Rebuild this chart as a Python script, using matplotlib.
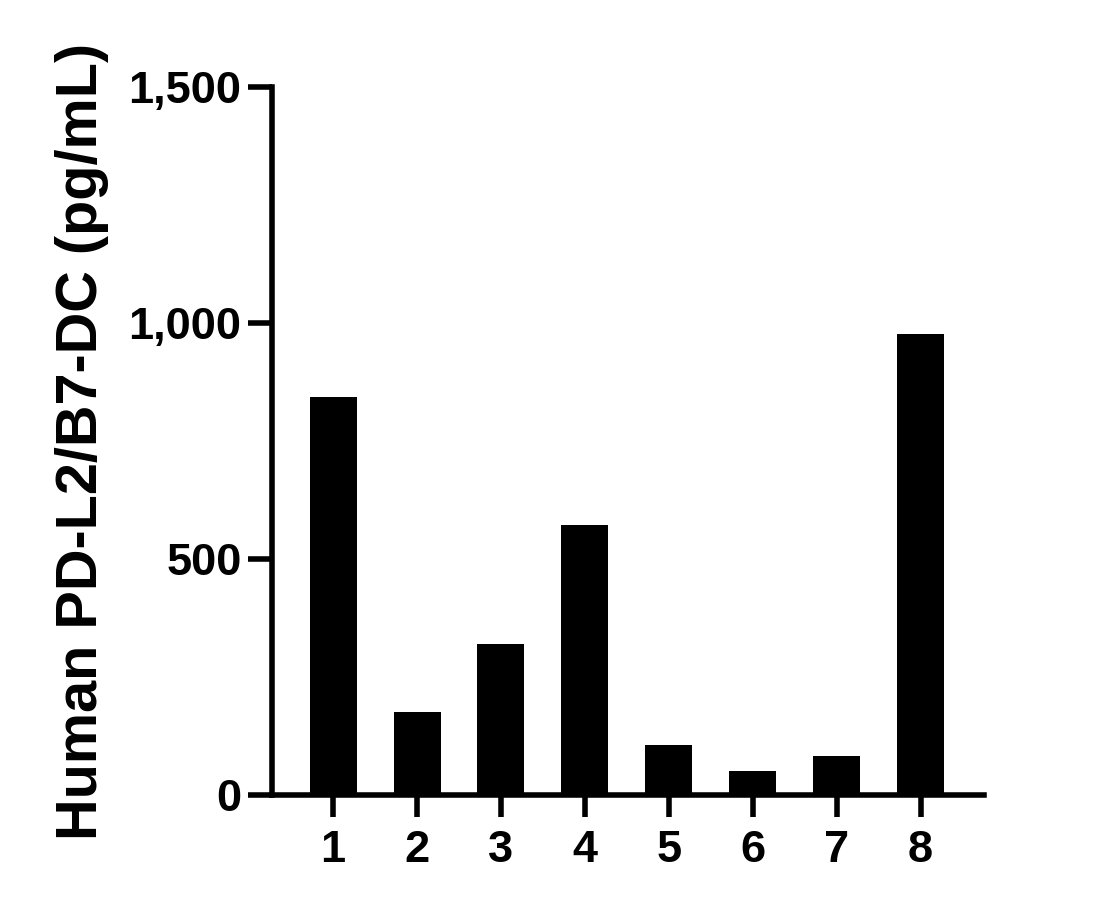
import matplotlib

matplotlib.use("Agg")
import matplotlib.pyplot as plt
from matplotlib.ticker import FuncFormatter

SAMPLES = ["1", "2", "3", "4", "5", "6", "7", "8"]
CONCENTRATIONS = [843, 176, 320, 572, 106, 51, 83, 977]
Y_TICKS = [0, 500, 1000, 1500]
Y_LABEL = "Human PD-L2/B7-DC (pg/mL)"

plt.rcParams["font.family"] = ["Liberation Sans", "DejaVu Sans"]
plt.rcParams["font.weight"] = "bold"

fig = plt.figure(figsize=(11.2, 9.11), dpi=100)
ax = fig.add_axes([0.243, 0.1273, 0.636, 0.7772])

positions = list(range(1, len(SAMPLES) + 1))
ax.bar(positions, CONCENTRATIONS, width=0.56, color="black")

ax.set_xlim(0.274, 8.76)
ax.set_ylim(0, 1500)
ax.set_xticks(positions)
ax.set_xticklabels(SAMPLES)
ax.set_yticks(Y_TICKS)
ax.yaxis.set_major_formatter(FuncFormatter(lambda v, _: f"{int(v):,}"))

for side in ("top", "right"):
    ax.spines[side].set_visible(False)
for side in ("left", "bottom"):
    ax.spines[side].set_linewidth(4)

ax.tick_params(axis="both", direction="out", width=4, labelsize=32.5)
ax.tick_params(axis="y", length=17, pad=5)
ax.tick_params(axis="x", length=16, pad=9)
for lbl in ax.get_xticklabels() + ax.get_yticklabels():
    lbl.set_fontweight("bold")

ax.set_ylabel(Y_LABEL, fontsize=41.5, fontweight="bold", labelpad=14)

fig.savefig("out.png", dpi=100)
